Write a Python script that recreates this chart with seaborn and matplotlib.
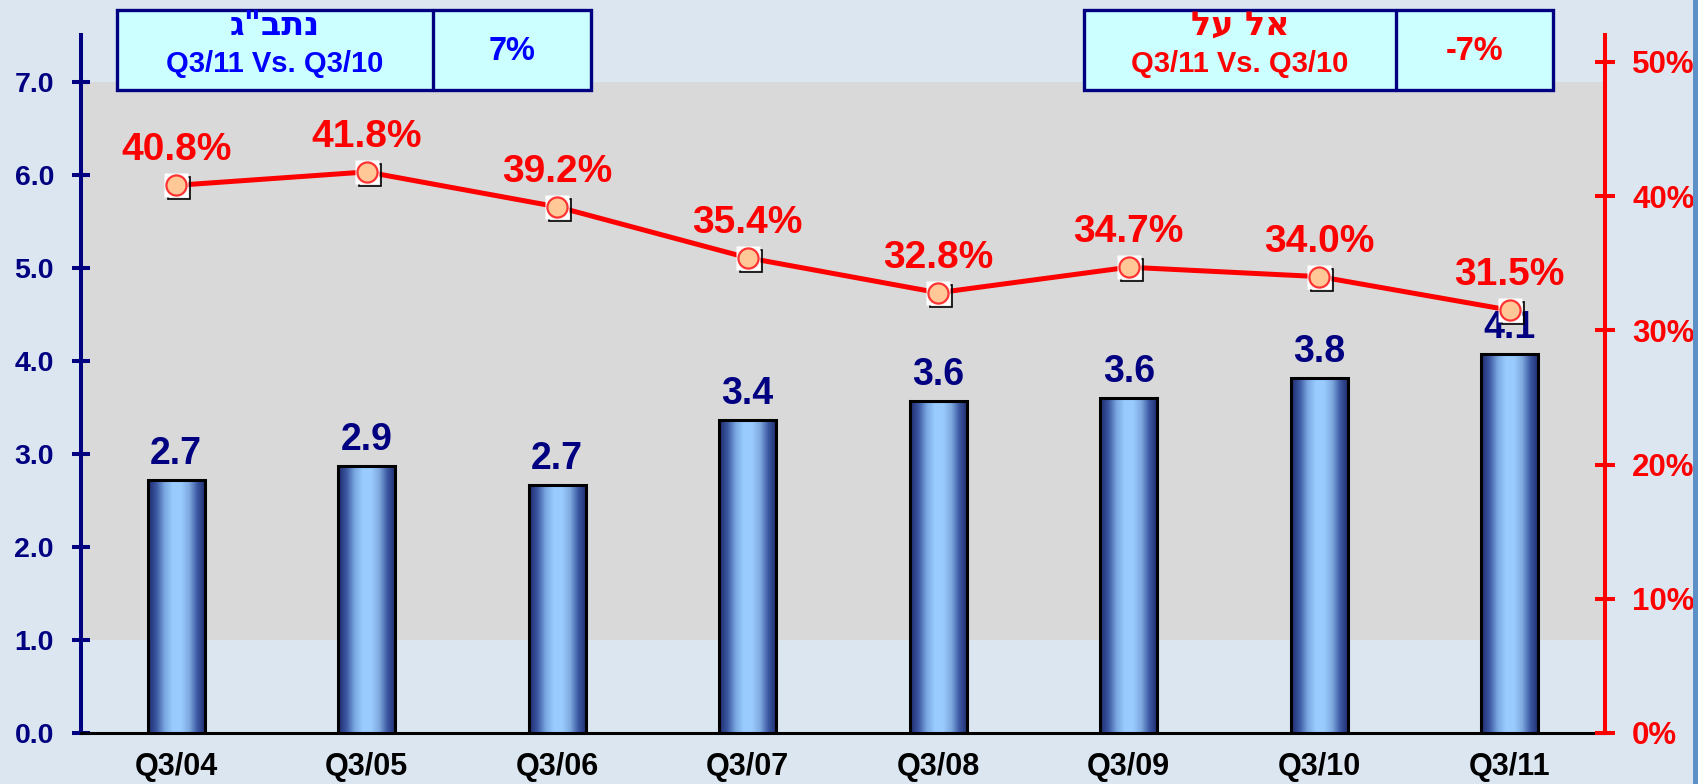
import numpy as np
import pandas as pd
import matplotlib
matplotlib.use("Agg")
import matplotlib.pyplot as plt
import matplotlib.transforms as mtransforms
from matplotlib.patches import Rectangle
from matplotlib.colors import LinearSegmentedColormap
import seaborn as sns

# ---------------- data ----------------
quarters = ["Q3/04", "Q3/05", "Q3/06", "Q3/07", "Q3/08", "Q3/09", "Q3/10", "Q3/11"]
passengers = [2.72, 2.87, 2.67, 3.36, 3.57, 3.60, 3.81, 4.07]
share_pct = [40.8, 41.8, 39.2, 35.4, 32.8, 34.7, 34.0, 31.5]
left_ticks = [0, 1, 2, 3, 4, 5, 6, 7]
right_ticks = [0, 10, 20, 30, 40, 50]
# Hebrew strings are stored in visual (left-to-right) order because matplotlib has no bidi support
box_left_title = 'ג"בתנ'      # נתב"ג
box_right_title = 'לע לא'     # אל על
box_compare = "Q3/11 Vs. Q3/10"
box_left_value = "7%"
box_right_value = "-7%"

# ---------------- style ----------------
sns.set_style("white")
plt.rcParams["font.family"] = ["Liberation Sans", "DejaVu Sans"]

BG = "#DCE6F1"
GRAY = "#D9D9D9"
NAVY = "#000080"
RED = "#FF0000"
W, H = 1699, 784

fig = plt.figure(figsize=(W / 100, H / 100), dpi=100)
fig.patch.set_facecolor(BG)
ax = fig.add_axes([81 / W, 1 - 733 / H, (1605 - 81) / W, (733 - 35) / H])
ax.set_facecolor(BG)

df = pd.DataFrame({"quarter": quarters, "passengers": passengers, "share": share_pct})

sns.barplot(data=df, x="quarter", y="passengers", width=0.3, color="#6F9BD8",
            saturation=1, edgecolor="black", linewidth=2.0, ax=ax, zorder=3)
bars = list(ax.containers[0])

ax.set_xlim(-0.5, len(quarters) - 0.5)
ax.set_ylim(0, 7.5)
ax.axhspan(1, 7, color=GRAY, zorder=0, lw=0)

# gradient fill for the bars
cmap = LinearSegmentedColormap.from_list(
    "barg", ["#1E2A6C", "#3A56A0", "#79A6E0", "#99CCFF", "#9ACBFF", "#7EA9DF", "#3A56A0", "#1E2A6C"])
grad = np.linspace(0, 1, 256).reshape(1, -1)
for p in bars:
    x0, w, h = p.get_x(), p.get_width(), p.get_height()
    im = ax.imshow(grad, cmap=cmap, extent=[x0, x0 + w, 0, h], aspect="auto",
                   zorder=3.5, interpolation="bilinear")
    im.set_clip_path(p)
    ax.add_patch(Rectangle((x0, 0), w, h, fill=False, edgecolor="black", lw=2.2, zorder=3.6))
ax.set_xlim(-0.5, len(quarters) - 0.5)
ax.set_ylim(0, 7.5)

# bar value labels
for i, v in enumerate(passengers):
    ax.annotate(f"{v:.1f}", (i, v), xytext=(0, 11.5), textcoords="offset points",
                ha="center", va="baseline", fontsize=27, fontweight="bold", color=NAVY, zorder=5)

# axes styling (left)
for s in ["top", "right"]:
    ax.spines[s].set_visible(False)
ax.spines["left"].set_color(NAVY)
ax.spines["left"].set_linewidth(2.9)
ax.spines["bottom"].set_color("black")
ax.spines["bottom"].set_linewidth(2.2)
ax.set_yticks(left_ticks)
ax.set_yticklabels([f"{t:.1f}" for t in left_ticks])
ax.tick_params(axis="y", direction="inout", length=13, width=2.9, color=NAVY,
               labelcolor=NAVY, labelsize=20.5, pad=13)
ax.set_xticks(range(len(quarters)))
ax.set_xticklabels(quarters)
ax.set_xticks(np.arange(-0.5, len(quarters), 1.0), minor=True)
ax.tick_params(axis="x", which="major", length=0, pad=14, labelsize=22, labelcolor="black")
ax.tick_params(axis="x", which="minor", direction="inout", length=14, width=2.2, color="black")
for lab in ax.get_xticklabels() + ax.get_yticklabels():
    lab.set_fontweight("bold")
ax.set_xlabel("")
ax.set_ylabel("")

# ---------------- share line on twin axis ----------------
ax2 = ax.twinx()
ax2.set_ylim(0, 52.0)
xs = np.arange(len(quarters))
sns.lineplot(x=xs, y=share_pct, ax=ax2, color=RED, lw=3.6, zorder=4)
shadow = ax2.transData + mtransforms.ScaledTranslation(3 / 100, -3 / 100, fig.dpi_scale_trans)
ax2.plot(xs, share_pct, ls="none", marker="s", ms=16, mfc="none", mec="black", mew=1.2,
         transform=shadow, zorder=5)
ax2.plot(xs, share_pct, ls="none", marker="s", ms=17, mfc="white", mec="none", zorder=6)
sns.scatterplot(x=xs, y=share_pct, ax=ax2, marker="o", s=210, color="#FFC896",
                edgecolor="#FF3333", linewidth=1.6, zorder=7)
for i, v in enumerate(share_pct):
    ax2.annotate(f"{v:.1f}%", (i, v), xytext=(0, 18), textcoords="offset points",
                 ha="center", va="baseline", fontsize=28, fontweight="bold", color=RED, zorder=8)

for s in ["top", "left", "bottom"]:
    ax2.spines[s].set_visible(False)
ax2.spines["right"].set_color(RED)
ax2.spines["right"].set_linewidth(2.9)
ax2.set_yticks(right_ticks)
ax2.set_yticklabels([f"{t}%" for t in right_ticks])
ax2.tick_params(axis="y", direction="inout", length=15, width=2.9, color=RED,
                labelcolor=RED, labelsize=22.5, pad=12)
for lab in ax2.get_yticklabels():
    lab.set_fontweight("bold")
ax2.set_ylabel("")

# ---------------- summary boxes at the top ----------------
def fx(px):
    return px / W

def fy(py):
    return 1 - py / H

def summary_box(x0, xdiv, x1, title, value, color):
    y0, y1 = 10, 90
    fig.add_artist(Rectangle((fx(x0), fy(y1)), fx(x1 - x0), (y1 - y0) / H,
                             facecolor="#CCFFFF", edgecolor=NAVY, lw=2.4, zorder=10))
    fig.add_artist(plt.Line2D([fx(xdiv), fx(xdiv)], [fy(y0), fy(y1)], color=NAVY, lw=2.4, zorder=11))
    cx = fx((x0 + xdiv) / 2)
    fig.text(cx, fy(35), title, ha="center", va="baseline", fontsize=24, fontweight="bold",
             color=color, zorder=12, family=["DejaVu Sans"])
    fig.text(cx, fy(64), box_compare, ha="center", va="center", fontsize=21, fontweight="bold",
             color=color, zorder=12)
    fig.text(fx((xdiv + x1) / 2), fy(51), value, ha="center", va="center", fontsize=23.5,
             fontweight="bold", color=color, zorder=12)

summary_box(117, 433, 591, box_left_title, box_left_value, "#0000FF")
summary_box(1084, 1396, 1553, box_right_title, box_right_value, RED)

# right border strip
fig.add_artist(Rectangle((fx(1693), 0), fx(6), 1, facecolor="#5E90C8", edgecolor="none", zorder=20))

fig.savefig("out.png", dpi=100, facecolor=BG)
